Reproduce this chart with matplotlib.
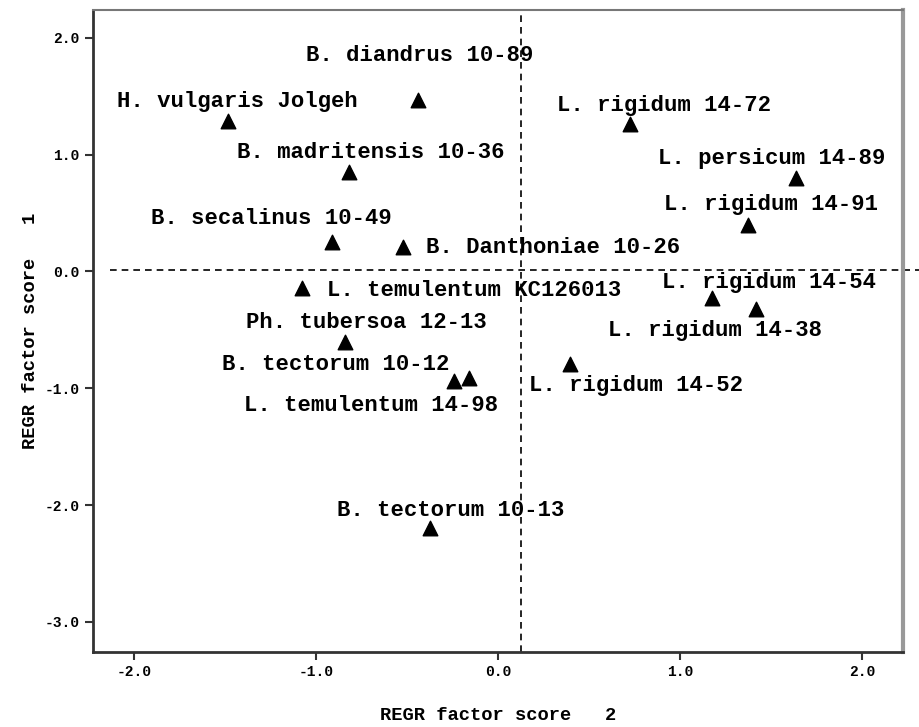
import numpy as np
import matplotlib
matplotlib.use('Agg')
import matplotlib.pyplot as plt

# Sample names
names = ['H. vulgaris Jolgeh', 'B. diandrus 10-89', 'B. madritensis 10-36',
         'B. secalinus 10-49', 'B. Danthoniae 10-26', 'L. temulentum KC126013',
         'Ph. tubersoa 12-13', 'B. tectorum 10-12', 'L. temulentum 14-98',
         'B. tectorum 10-13', 'L. rigidum 14-72', 'L. persicum 14-89',
         'L. rigidum 14-91', 'L. rigidum 14-54', 'L. rigidum 14-38',
         'L. rigidum 14-52']
## REGR factor score 2 (x) and 1 (y)
score2 = [-1.484, -0.44, -0.819, -0.912, -0.522, -1.077, -0.841, -0.242,
          -0.159, -0.374, 0.725, 1.637, 1.374, 1.176, 1.418, 0.396]
score1 = [1.293, 1.47, 0.85, 0.25, 0.208, -0.145, -0.60, -0.94,
          -0.91, -2.20, 1.26, 0.80, 0.40, -0.23, -0.32, -0.79]
## where each label sits (data units, label centre)
lab_x = [-1.431, -0.429, -0.698, -1.245, 0.302, -0.132, -0.725, -0.89,
         -0.698, -0.258, 0.912, 1.505, 1.50, 1.489, 1.192, 0.758]
lab_y = [1.453, 1.846, 1.017, 0.453, 0.205, -0.162, -0.436, -0.795,
         -1.145, -2.05, 1.418, 0.966, 0.573, -0.094, -0.504, -0.974]

xticks = [-2.0, -1.0, 0.0, 1.0, 2.0]
yticks = [-3.0, -2.0, -1.0, 0.0, 1.0, 2.0]

mono = 'Liberation Mono'

fig = plt.figure(figsize=(9.2, 7.27), dpi=100)
ax = fig.add_axes([0.101, 0.103, 0.8805, 0.883])

ax.scatter(score2, score1, marker='^', s=110, color='black', zorder=3)
for n, x, y in zip(names, lab_x, lab_y):
    ax.text(x, y, n, fontsize=16, family=mono, fontweight='bold',
            ha='center', va='center', zorder=4, clip_on=False)

# reference lines
ax.axvline(0.126, color='black', linestyle=(0, (4, 3)), lw=1.2)
ax.plot([-2.13, 2.33], [0.01, 0.01], color='black', linestyle=(0, (4, 3)),
        lw=1.2, clip_on=False)

ax.set_xlim(-2.225, 2.225)
ax.set_ylim(-3.26, 2.238)
ax.set_xticks(xticks)
ax.set_yticks(yticks)
ax.set_xticklabels(['%.1f' % t for t in xticks], family=mono,
                   fontweight='bold', fontsize=10.5)
ax.set_yticklabels(['%.1f' % t for t in yticks], family=mono,
                   fontweight='bold', fontsize=10.5)
ax.tick_params(direction='out', length=6, width=1.5, color='#333333')

ax.set_xlabel('REGR factor score   2', family=mono, fontweight='bold',
              fontsize=13.5, labelpad=20)
ax.set_ylabel('REGR factor score   1', family=mono, fontweight='bold',
              fontsize=13.5, labelpad=4)

ax.spines['left'].set_linewidth(2)
ax.spines['bottom'].set_linewidth(2)
ax.spines['left'].set_color('#333333')
ax.spines['bottom'].set_color('#333333')
ax.spines['top'].set_color('#777777')
ax.spines['top'].set_linewidth(1.5)
ax.spines['right'].set_color('#999999')
ax.spines['right'].set_linewidth(3)

plt.savefig('out.png', dpi=100)
